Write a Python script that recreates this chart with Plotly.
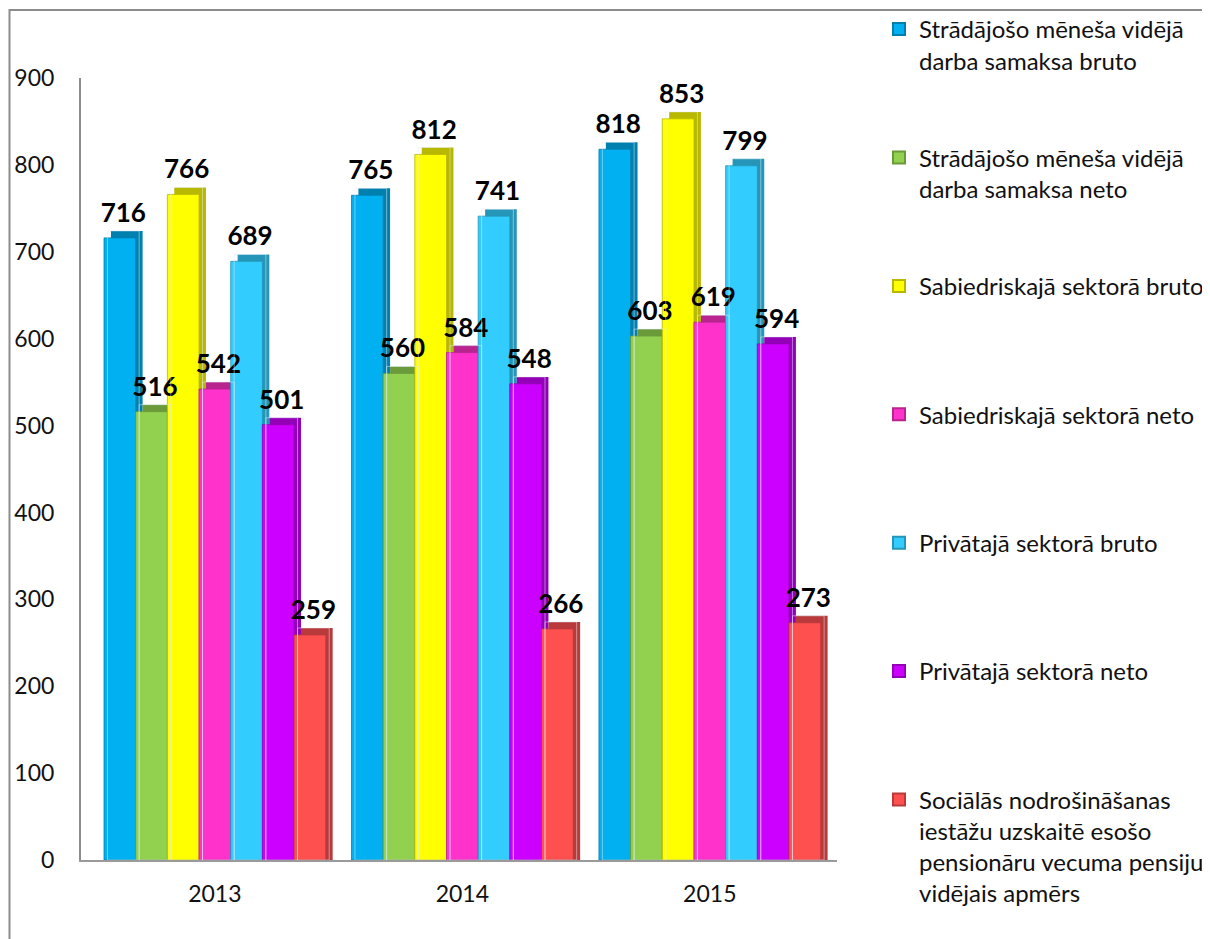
import plotly.graph_objects as go

# Data
years = ['2013', '2014', '2015']
series_names = [
    'Strādājošo mēneša vidējā<br>darba samaksa bruto',
    'Strādājošo mēneša vidējā<br>darba samaksa neto',
    'Sabiedriskajā sektorā bruto',
    'Sabiedriskajā sektorā neto',
    'Privātajā sektorā bruto',
    'Privātajā sektorā neto',
    'Sociālās nodrošināšanas<br>iestāžu uzskaitē esošo<br>pensionāru vecuma pensiju<br>vidējais apmērs',
]
bruto_all = [716, 765, 818]
neto_all = [516, 560, 603]
public_bruto = [766, 812, 853]
public_neto = [542, 584, 619]
private_bruto = [689, 741, 799]
private_neto = [501, 548, 594]
pension = [259, 266, 273]
y_ticks = [0, 100, 200, 300, 400, 500, 600, 700, 800, 900]

values = [bruto_all, neto_all, public_bruto, public_neto, private_bruto, private_neto, pension]
colors = ['#00B0F0', '#92D050', '#FFFF00', '#FF33CC', '#33CCFF', '#CC00FF', '#FF5050']
sides = ['#0080AE', '#6A9A3A', '#B8B800', '#B8258F', '#2596B8', '#9400B8', '#B83A3A']

# page has an 8px body margin, so the figure is 8px smaller than the window
OFF = 8
W, H = 1210 - OFF, 939 - OFF
L, T = 81 - OFF, 78 - OFF
R = W - (837 - OFF)
B = H - (860 - OFF)

# bar geometry (in category units) for a fake 3D look
bar_w = 0.128
first_off = -3.5 * bar_w
depth_x = 0.028   # side face width
depth_y = 8       # top face height in value units

fig = go.Figure()
for i, (name, vals, c, s) in enumerate(zip(series_names, values, colors, sides)):
    off = first_off + i * bar_w
    legend_name = name if '<br>' in name else name + '<br>\u00a0'
    # back "side/top" of the bar
    fig.add_trace(go.Bar(
        x=years, y=[v + depth_y for v in vals], offset=off + depth_x, width=bar_w,
        marker=dict(color=s, line=dict(width=0)), showlegend=False, hoverinfo='skip',
        legendgroup=str(i),
    ))
    # front face
    fig.add_trace(go.Bar(
        x=years, y=vals, name=legend_name, legendgroup=str(i), offset=off, width=bar_w,
        marker=dict(color=c, line=dict(color=s, width=0.8)),
    ))

# value labels on top of everything
for i, vals in enumerate(values):
    off = first_off + i * bar_w
    fig.add_trace(go.Bar(
        x=years, y=[v + depth_y for v in vals], offset=off + depth_x / 2, width=bar_w,
        marker=dict(color='rgba(0,0,0,0)'), showlegend=False, hoverinfo='skip',
        legendgroup=str(i),
        text=vals, textposition='outside', cliponaxis=False, constraintext='none',
        textfont=dict(family='Lato', size=26, color='black', weight='bold'),
    ))

def px_x(p):
    return (p - OFF - L) / (W - L - R)

def px_y(p):
    return 1 - (p - OFF - T) / (H - T - B)

# outer chart border (cropped on the right and bottom)
fig.add_shape(type='rect', xref='paper', yref='paper',
              x0=px_x(9.5), x1=px_x(1225), y0=px_y(950), y1=px_y(10),
              line=dict(color='#8C8C8C', width=2), layer='below')

fig.update_layout(
    width=W, height=H,
    margin=dict(l=L, r=R, t=T, b=B, autoexpand=False),
    paper_bgcolor='white', plot_bgcolor='white',
    barmode='overlay',
    font=dict(family='Lato', size=23, color='#111111'),
    showlegend=True,
    legend=dict(x=px_x(879), y=px_y(7), xanchor='left', yanchor='top',
                valign='top', tracegroupgap=63, itemsizing='constant',
                traceorder='grouped', maxheight=H, bgcolor='rgba(0,0,0,0)',
                font=dict(family='Lato', size=24, color='#111111')),
    xaxis=dict(range=[-0.541, 2.514], showline=True, linecolor='#9A9A9A', linewidth=2,
               ticks='', ticklabelstandoff=12, showgrid=False),
    yaxis=dict(range=[0, 900], tickvals=y_ticks, showline=True, linecolor='#8C8C8C',
               linewidth=2, showgrid=False, zeroline=False, ticks='',
               ticklabelstandoff=20),
)

fig.write_html('out.html')
